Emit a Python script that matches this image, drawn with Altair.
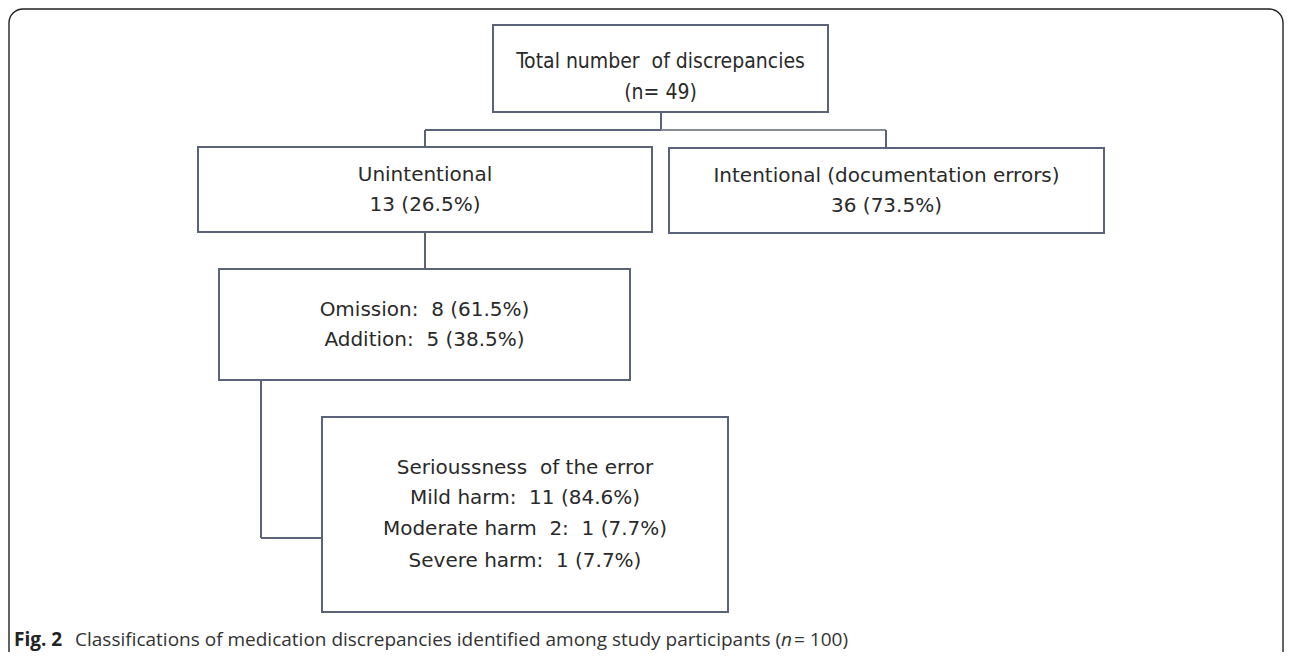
import altair as alt
import pandas as pd

NB = "\u00a0"

# ---- content ----
box_names = ["total", "unintentional", "intentional", "type", "severity"]
box_lines = [
    ["Total number" + NB + " of discrepancies", "(n= 49)"],
    ["Unintentional", "13 (26.5%)"],
    ["Intentional (documentation errors)", "36 (73.5%)"],
    ["Omission:" + NB + " 8 (61.5%)", "Addition:" + NB + " 5 (38.5%)"],
    ["Serioussness" + NB + " of the error", "Mild harm:" + NB + " 11 (84.6%)",
     "Moderate harm" + NB + " 2:" + NB + " 1 (7.7%)", "Severe harm:" + NB + " 1 (7.7%)"],
]
caption_bold = "Fig. 2"
caption_parts = ["Classifications of medication discrepancies identified among study participants (", "n", "=" + NB + "100)"]

# ---- layout (pixel space of the figure) ----
box_x0 = [493, 198, 669, 219, 322]
box_x1 = [828, 652, 1104, 630, 728]
box_y0 = [25, 147, 148, 269, 417]
box_y1 = [112, 232, 233, 380, 612]
line_y = [[62, 93], [175, 205], [176, 206], [310, 340], [468, 498, 529, 561]]
box_font = ["DejaVu Sans Condensed", "DejaVu Sans", "DejaVu Sans", "DejaVu Sans", "DejaVu Sans"]
box_size = [21, 20, 20, 20, 20]

connectors = [
    (661, 112, 661, 130, "#5a6377"),
    (425, 130, 661, 130, "#5a6377"),
    (661, 130, 886, 130, "#868b96"),
    (425, 130, 425, 147, "#5a6377"),
    (886, 130, 886, 148, "#5a6377"),
    (425, 232, 425, 269, "#5a6377"),
    (261, 380, 261, 538, "#5a6377"),
    (261, 538, 322, 538, "#5a6377"),
]

W, H = 1276, 644
xs = alt.Scale(domain=[8, 8 + W], nice=False, zero=False)
ys = alt.Scale(domain=[8, 8 + H], nice=False, zero=False, reverse=True)

boxes = pd.DataFrame({"name": box_names, "x0": box_x0, "x1": box_x1, "y0": box_y0, "y1": box_y1})
texts = pd.DataFrame([
    {"t": t, "x": (box_x0[i] + box_x1[i]) / 2, "y": line_y[i][j], "f": box_font[i], "s": box_size[i]}
    for i in range(len(box_names)) for j, t in enumerate(box_lines[i])
])
conn = pd.DataFrame(connectors, columns=["x0", "y0", "x1", "y1", "c"])
frame = pd.DataFrame({"x0": [9], "x1": [1283], "y0": [9], "y1": [676]})

X = lambda f: alt.X(f, type="quantitative", scale=xs, axis=None)
Y = lambda f: alt.Y(f, type="quantitative", scale=ys, axis=None)

frame_l = alt.Chart(frame).mark_rect(fill="white", stroke="#222222", strokeWidth=1.4, cornerRadius=14).encode(
    x=X("x0"), x2="x1", y=Y("y0"), y2="y1")

box_l = alt.Chart(boxes).mark_rect(fill="white", stroke="#5a6377", strokeWidth=2).encode(
    x=X("x0"), x2="x1", y=Y("y0"), y2="y1")

conn_l = alt.Chart(conn).mark_rule(strokeWidth=2).encode(
    x=X("x0"), x2="x1", y=Y("y0"), y2="y1", color=alt.Color("c:N", scale=None))

layers = [frame_l, conn_l, box_l]
for font in sorted(set(box_font)):
    sub = texts[texts.f == font]
    layers.append(alt.Chart(sub).mark_text(font=font, fontSize=int(sub.s.iloc[0]), color="#2a2a2a",
                                           align="center", baseline="middle").encode(
        x=X("x"), y=Y("y"), text="t:N"))

CAP_FONT = "Open Sans"
CAP_SIZE = 19
CAP_Y = 640
cap = pd.DataFrame({"t": [caption_bold], "x": [14], "y": [CAP_Y]})
layers.append(alt.Chart(cap).mark_text(font=CAP_FONT, fontSize=CAP_SIZE, fontWeight="bold", color="#222222",
                                       align="left", baseline="middle").encode(x=X("x"), y=Y("y"), text="t:N"))
cap2 = pd.DataFrame({"t": [caption_parts[0], caption_parts[2]], "x": [75, 794], "y": [CAP_Y, CAP_Y]})
layers.append(alt.Chart(cap2).mark_text(font=CAP_FONT, fontSize=CAP_SIZE, color="#333333",
                                        align="left", baseline="middle").encode(x=X("x"), y=Y("y"), text="t:N"))
cap3 = pd.DataFrame({"t": [caption_parts[1]], "x": [781], "y": [CAP_Y]})
layers.append(alt.Chart(cap3).mark_text(font=CAP_FONT, fontSize=CAP_SIZE, fontStyle="italic", color="#333333",
                                        align="left", baseline="middle").encode(x=X("x"), y=Y("y"), text="t:N"))

chart = alt.layer(*layers).properties(
    width=W, height=H, padding=0, autosize=alt.AutoSizeParams(type="none")
).configure_view(stroke=None)

chart.save("out.html", embed_options={"renderer": "svg", "actions": False})
